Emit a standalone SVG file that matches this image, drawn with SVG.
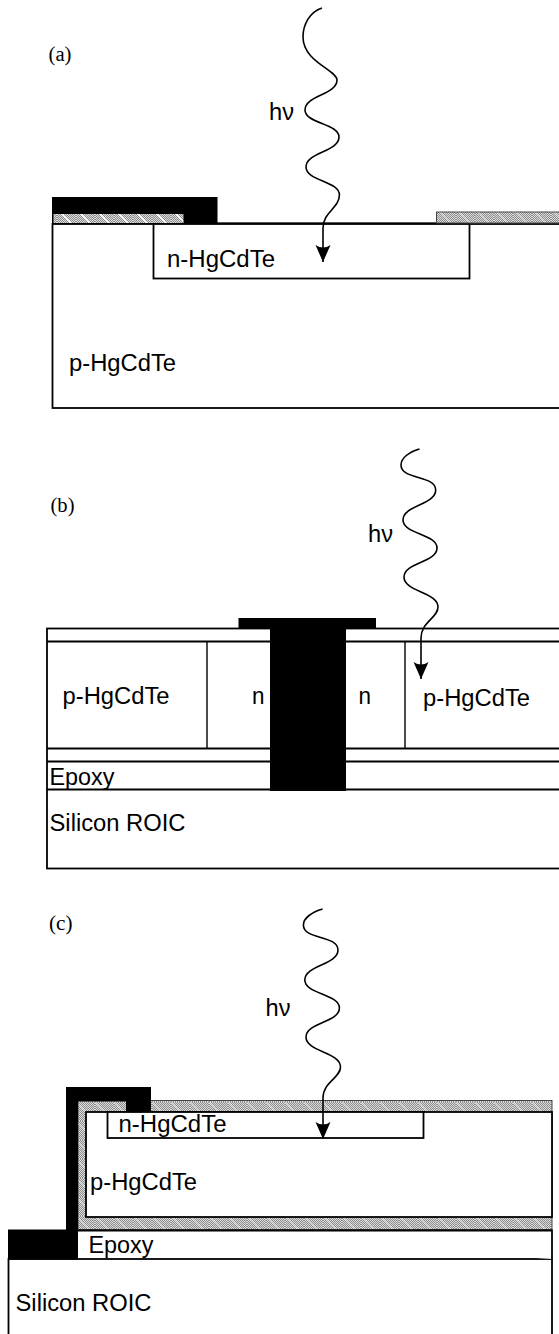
<svg xmlns="http://www.w3.org/2000/svg" width="559" height="1334" viewBox="0 0 559 1334">
<style>
.box{fill:#fff;stroke:#000;stroke-width:1.8}
.thin{fill:none;stroke:#000;stroke-width:1.4}
.gl{fill:none;stroke:#555;stroke-width:1}
.blk{fill:#000}
.hs{fill:url(#hs)}
.hat{fill:url(#h);stroke:#444;stroke-width:1}
.wave{fill:none;stroke:#000;stroke-width:1.6}
.s{font-family:"Liberation Sans",Arial,sans-serif;font-size:23.500px;fill:#000}
.t{font-family:"Liberation Serif","Times New Roman",serif;font-size:20px;fill:#000}
</style>
<defs>
<pattern id="d" width="2" height="2" patternUnits="userSpaceOnUse">
<rect width="2" height="2" fill="#dcdcdc"/>
<rect width="1" height="1" fill="#8c8c8c"/>
<rect x="1" y="1" width="1" height="1" fill="#8c8c8c"/>
</pattern>
<pattern id="h" width="19" height="19" patternUnits="userSpaceOnUse">
<rect width="19" height="19" fill="url(#d)"/>
<path d="M0 0L19 19" stroke="#e8e8e8" stroke-width="0.6"/>
</pattern>
<pattern id="hs" width="19" height="19" patternUnits="userSpaceOnUse">
<rect width="19" height="19" fill="url(#d)"/>
<path d="M0 0L19 19M-19 0L0 19M0 -19L19 0" stroke="#fff" stroke-width="1.500"/>
</pattern>
<marker id="ah" markerUnits="userSpaceOnUse" markerWidth="18" markerHeight="16" refX="17" refY="7.500" orient="auto">
<path d="M0 0L17 7.500L0 15Q5 7.500 0 0Z" fill="#000"/>
</marker>
</defs>
<g id="panel-a">
<path class="gl" d="M217 223V222.500H436"/>
<rect class="box" x="52.500" y="224" width="520" height="184"/>
<rect class="box" x="153.500" y="224" width="316" height="54.500"/>
<rect class="blk" x="52" y="197" width="165.500" height="27"/>
<rect class="hs" x="53.500" y="214" width="130" height="9"/>
<rect class="hat" x="436.500" y="212" width="130" height="11"/>
<text class="t" x="48.500" y="61" textLength="23" lengthAdjust="spacingAndGlyphs">(a)</text>
<text class="s" x="269" y="120" textLength="25" lengthAdjust="spacingAndGlyphs">hν</text>
<text class="s" x="167" y="267" textLength="108" lengthAdjust="spacingAndGlyphs">n-HgCdTe</text>
<text class="s" x="69" y="371" textLength="107" lengthAdjust="spacingAndGlyphs">p-HgCdTe</text>
</g>
<g id="panel-b">
<rect class="box" x="47" y="628.500" width="520" height="240"/>
<path class="box" d="M47 641.500H559M47 748.500H559M47 761.500H559M47 789.500H559"/>
<path class="thin" d="M207 641.500V748.500M405 641.500V748.500"/>
<path class="blk" d="M238.500 618H376V628.500H346V791H270V628.500H238.500Z"/>
<text class="t" x="50.500" y="512" textLength="24" lengthAdjust="spacingAndGlyphs">(b)</text>
<text class="s" x="368" y="541.500" textLength="25" lengthAdjust="spacingAndGlyphs">hν</text>
<text class="s" x="62.500" y="704" textLength="107" lengthAdjust="spacingAndGlyphs">p-HgCdTe</text>
<text class="s" x="252" y="704" textLength="12.500" lengthAdjust="spacingAndGlyphs">n</text>
<text class="s" x="358.500" y="704" textLength="12.500" lengthAdjust="spacingAndGlyphs">n</text>
<text class="s" x="423" y="706" textLength="107" lengthAdjust="spacingAndGlyphs">p-HgCdTe</text>
<text class="s" x="49.500" y="785" textLength="65" lengthAdjust="spacingAndGlyphs">Epoxy</text>
<text class="s" x="49.500" y="831" textLength="136" lengthAdjust="spacingAndGlyphs">Silicon ROIC</text>
</g>
<g id="panel-c">
<rect class="box" x="8.500" y="1259" width="543.500" height="100"/>
<rect class="hat" x="78" y="1100.500" width="474" height="129"/>
<rect class="box" x="86" y="1112" width="466" height="105"/>
<rect class="box" x="107.500" y="1112" width="316" height="26"/>
<path class="box" d="M78 1230.500H552V1259"/>
<path class="blk" d="M66 1087H151V1112H126V1101.500H78V1259.500H8V1229.500H66Z"/>
<text class="t" x="49" y="930" textLength="23.500" lengthAdjust="spacingAndGlyphs">(c)</text>
<text class="s" x="265.500" y="1016" textLength="25" lengthAdjust="spacingAndGlyphs">hν</text>
<text class="s" x="118.500" y="1132" textLength="108" lengthAdjust="spacingAndGlyphs">n-HgCdTe</text>
<text class="s" x="90" y="1189.500" textLength="107" lengthAdjust="spacingAndGlyphs">p-HgCdTe</text>
<text class="s" x="88.500" y="1252.500" textLength="65" lengthAdjust="spacingAndGlyphs">Epoxy</text>
<text class="s" x="15.500" y="1310.500" textLength="136" lengthAdjust="spacingAndGlyphs">Silicon ROIC</text>
</g>
<g id="connectors">
<path class="wave" marker-end="url(#ah)" d="M322 8C310 12 303 24 303 37C303 62 337 70 337 80C337 95 305 95 305 110C305 123.500 339 123.500 339 137C339 152 306 152 306 167C306 181 339.400 181 339.400 195C339.400 208 323 212 323 228V262"/>
<path class="wave" marker-end="url(#ah)" d="M419.500 449C409 452 401 458 401 465C401 480 435.700 475 435.700 490C435.700 505 403 505 403 520C403 534 437 534 437 548C437 562.500 404 562.500 404 577C404 592 438 592 438 607C438 618 421 622 421 638V679"/>
<path class="wave" marker-end="url(#ah)" d="M322.600 909C312 912 303.400 918 303.400 925C303.400 940 338 935 338 950C338 965 304.800 965 304.800 980C304.800 994 339.400 994 339.400 1008C339.400 1022.500 306 1022.500 306 1037C306 1052 340.500 1052 340.500 1067C340.500 1078 323 1082 323 1098V1139"/>
</g>
</svg>
